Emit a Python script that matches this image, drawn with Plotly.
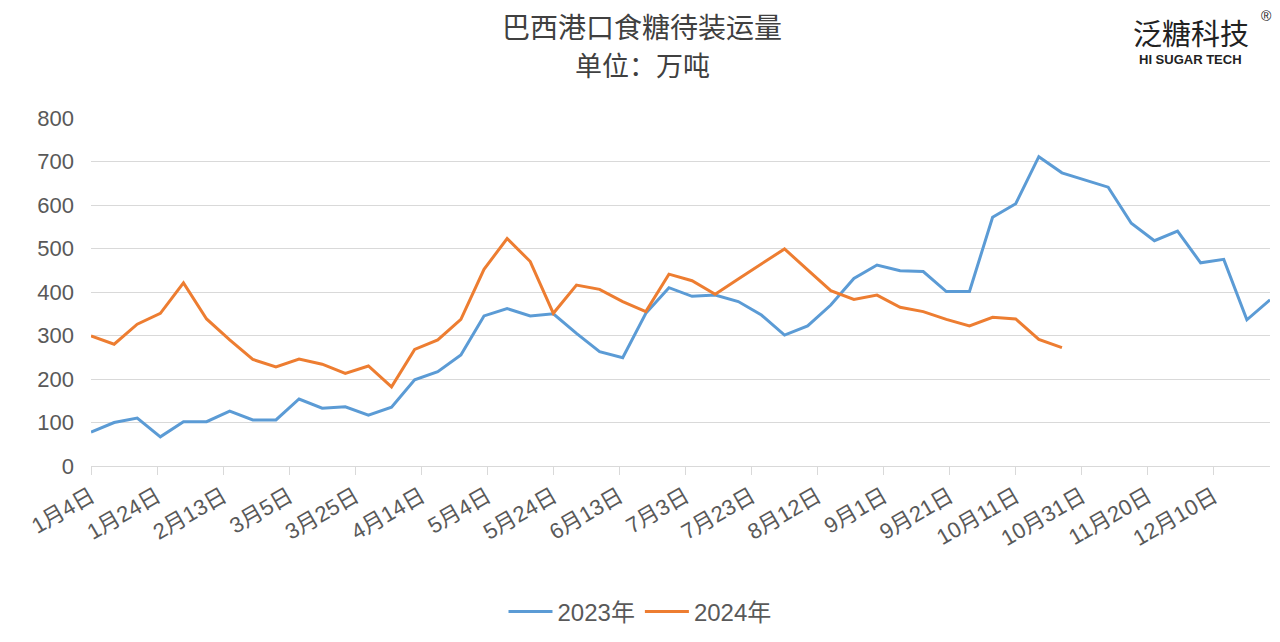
import plotly.graph_objects as go
import pandas as pd

# weekly categories (plotted on a common calendar year)
dates = pd.date_range("2023-01-04", periods=52, freq="7D")

vals_2023 = [78, 100, 110, 67, 102, 102, 126, 106, 106, 154, 133, 136, 117, 135,
             198, 217, 255, 345, 362, 345, 350, 305, 263, 249, 351, 410, 390, 393,
             378, 347, 301, 322, 370, 431, 462, 449, 447, 401, 401, 572, 603, 711,
             674, 657, 641, 558, 518, 540, 467, 475, 336, 382]

vals_2024 = [299, 280, 326, 351, 421, 338, 290, 245, 228, 246, 234, 213, 230, 182,
             268, 290, 337, 452, 523, 470, 351, 416, 406, 378, 355, 441, 426, 395,
             430, 464, 499, 451, 403, 383, 393, 365, 355, 337, 322, 342, 338, 291, 272]

tick_dates = ["2023-01-04", "2023-01-24", "2023-02-13", "2023-03-05", "2023-03-25",
              "2023-04-14", "2023-05-04", "2023-05-24", "2023-06-13", "2023-07-03",
              "2023-07-23", "2023-08-12", "2023-09-01", "2023-09-21", "2023-10-11",
              "2023-10-31", "2023-11-20", "2023-12-10"]
tick_labels = ["1月4日", "1月24日", "2月13日", "3月5日", "3月25日", "4月14日",
               "5月4日", "5月24日", "6月13日", "7月3日", "7月23日", "8月12日",
               "9月1日", "9月21日", "10月11日", "10月31日", "11月20日", "12月10日"]
y_ticks = [0, 100, 200, 300, 400, 500, 600, 700, 800]

series_names = ["2023年", "2024年"]
colors = ["#5B9BD5", "#ED7D31"]

FONT = "Liberation Sans, Noto Sans CJK SC, sans-serif"
CJK = "Noto Sans CJK SC, sans-serif"

L, R, T, B = 91, 10, 118, 176
PW, PH = 1280 - L - R, 642 - T - B


def px(x):
    return (x - L) / PW


def py(y):
    return (642 - B - y) / PH


fig = go.Figure()
fig.add_trace(go.Scatter(x=dates[:len(vals_2023)], y=vals_2023, mode="lines",
                         name=series_names[0], line=dict(color=colors[0], width=3)))
fig.add_trace(go.Scatter(x=dates[:len(vals_2024)], y=vals_2024, mode="lines",
                         name=series_names[1], line=dict(color=colors[1], width=3)))

fig.update_layout(
    width=1280, height=642,
    margin=dict(l=L, r=R, t=T, b=B, autoexpand=False),
    plot_bgcolor="white", paper_bgcolor="white",
    font=dict(family=FONT, color="#595959", size=18),
    showlegend=True,
    legend=dict(orientation="h", x=px(640), xanchor="center", y=py(612), yanchor="middle",
                font=dict(size=24, color="#595959", family=FONT), itemwidth=44),
    xaxis=dict(
        type="date",
        range=["2023-01-04", "2023-12-27"],
        tickmode="array", tickvals=tick_dates, ticktext=tick_labels,
        tickangle=-30,
        showgrid=False, showline=True, linecolor="#d9d9d9", linewidth=1,
        ticks="outside", ticklen=8, tickcolor="#d9d9d9",
        tickfont=dict(size=22, color="#595959", family=FONT),
        zeroline=False,
    ),
    yaxis=dict(
        range=[0, 800], tickmode="array", tickvals=y_ticks,
        showgrid=True, gridcolor="#d9d9d9", gridwidth=1,
        zeroline=False, showline=False,
        ticks="", ticklabelstandoff=16,
        tickfont=dict(size=22, color="#595959", family=FONT),
    ),
)

fig.add_annotation(text="巴西港口食糖待装运量", xref="paper", yref="paper",
                   x=px(642), y=py(26), xanchor="center", yanchor="middle",
                   showarrow=False, font=dict(family=CJK, size=28, color="#404040"))
fig.add_annotation(text="单位：万吨", xref="paper", yref="paper",
                   x=px(642), y=py(64), xanchor="center", yanchor="middle",
                   showarrow=False, font=dict(family=CJK, size=27, color="#404040"))
fig.add_annotation(text="泛糖科技", xref="paper", yref="paper",
                   x=px(1191), y=py(32), xanchor="center", yanchor="middle",
                   showarrow=False, font=dict(family=CJK, size=29, color="#222222"))
fig.add_annotation(text="®", xref="paper", yref="paper",
                   x=px(1266), y=py(16), xanchor="center", yanchor="middle",
                   showarrow=False, font=dict(family=FONT, size=14, color="#222222"))
fig.add_annotation(text="<b>HI SUGAR TECH</b>", xref="paper", yref="paper",
                   x=px(1190), y=py(60), xanchor="center", yanchor="middle",
                   showarrow=False, font=dict(family=FONT, size=13, color="#222222"))

fig.write_html("out.html", config={"displayModeBar": False})

# remove the browser's default body margin so the figure sits at the page origin
with open("out.html", "r", encoding="utf-8") as f:
    html = f.read()
html = html.replace("<body>", '<body style="margin:0;padding:0;">', 1)
with open("out.html", "w", encoding="utf-8") as f:
    f.write(html)
